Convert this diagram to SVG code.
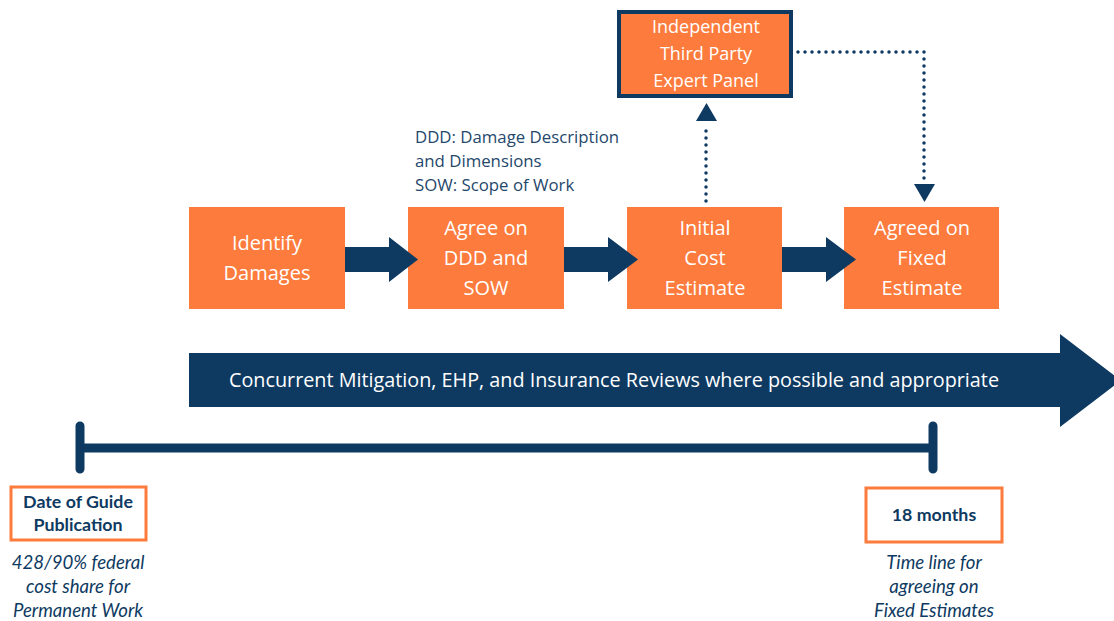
<svg xmlns="http://www.w3.org/2000/svg" width="1114" height="621" viewBox="0 0 1114 621">
  <style>
    .step { fill: #FD7B3C; }
    .stepText { font-family: "Open Sans", "Liberation Sans", sans-serif; font-size: 20px; fill: #ffffff; text-anchor: middle; }
    .panelText { font-family: "Open Sans", "Liberation Sans", sans-serif; font-size: 18px; fill: #ffffff; text-anchor: middle; }
    .note { font-family: "Open Sans", "Liberation Sans", sans-serif; font-size: 16.8px; fill: #24476B; }
    .bandText { font-family: "Open Sans", "Liberation Sans", sans-serif; font-size: 19.8px; fill: #ffffff; }
    .label { font-family: "Lato", "Liberation Sans", sans-serif; font-size: 17.8px; font-weight: bold; fill: #0E3A62; text-anchor: middle; }
    .caption { font-family: "Lato", "Liberation Sans", sans-serif; font-size: 18.6px; font-style: italic; fill: #0E3A62; text-anchor: middle; }
    .dotted { fill: none; stroke: #0E3A62; stroke-width: 3.5; stroke-linecap: round; stroke-dasharray: 0 7; }
    .navy { fill: #0E3A62; }
    .tick { stroke: #0E3A62; stroke-width: 9; stroke-linecap: round; fill: none; }
  </style>

  <rect width="1114" height="621" fill="#ffffff"/>

  <!-- expert panel -->
  <g id="panel">
    <rect x="619" y="12" width="172" height="84" fill="#FD7B3C" stroke="#0E3A62" stroke-width="4"/>
    <text class="panelText" x="706" y="33">Independent</text>
    <text class="panelText" x="706" y="60">Third Party</text>
    <text class="panelText" x="706" y="87">Expert Panel</text>
  </g>

  <!-- abbreviation notes -->
  <g id="notes">
    <text class="note" x="415" y="143">DDD: Damage Description</text>
    <text class="note" x="415" y="167">and Dimensions</text>
    <text class="note" x="415" y="191">SOW: Scope of Work</text>
  </g>

  <!-- process steps -->
  <g id="identify">
    <rect class="step" x="189" y="207" width="156" height="102"/>
    <text class="stepText" x="267" y="250">Identify</text>
    <text class="stepText" x="267" y="280">Damages</text>
  </g>
  <g id="agree">
    <rect class="step" x="408" y="207" width="156" height="102"/>
    <text class="stepText" x="486" y="235">Agree on</text>
    <text class="stepText" x="486" y="265">DDD and</text>
    <text class="stepText" x="486" y="295">SOW</text>
  </g>
  <g id="initial">
    <rect class="step" x="627" y="207" width="155" height="102"/>
    <text class="stepText" x="705" y="235">Initial</text>
    <text class="stepText" x="705" y="265">Cost</text>
    <text class="stepText" x="705" y="295">Estimate</text>
  </g>
  <g id="fixed">
    <rect class="step" x="844" y="207" width="155" height="102"/>
    <text class="stepText" x="922" y="235">Agreed on</text>
    <text class="stepText" x="922" y="265">Fixed</text>
    <text class="stepText" x="922" y="295">Estimate</text>
  </g>

  <!-- connectors -->
  <g id="connectors">
    <polygon class="navy" points="345,247 389,247 389,237 418,259.5 389,282 389,272 345,272"/>
    <polygon class="navy" points="564,247 608,247 608,237 638,259.5 608,282 608,272 564,272"/>
    <polygon class="navy" points="782,247 826,247 826,237 856,259.5 826,282 826,272 782,272"/>

    <path class="dotted" d="M706,201 V125"/>
    <polygon class="navy" points="696,121 717,121 706.5,103"/>

    <path class="dotted" d="M798,52 H924 V181"/>
    <polygon class="navy" points="914,184 935,184 924.5,202"/>
  </g>

  <!-- concurrent reviews band -->
  <g id="band">
    <polygon class="navy" points="189,353 1060,353 1060,334 1121,380.5 1060,427 1060,407 189,407"/>
    <text class="bandText" x="229" y="387">Concurrent Mitigation, EHP, and Insurance Reviews where possible and appropriate</text>
  </g>

  <!-- timeline -->
  <g id="timeline">
    <path class="tick" d="M80,426 V469 M933,426 V469"/>
    <path d="M80,448 H933" stroke="#0E3A62" stroke-width="9" fill="none"/>
  </g>

  <g id="start">
    <rect x="11" y="487" width="135" height="53" fill="#ffffff" stroke="#FD7B3C" stroke-width="3"/>
    <text class="label" x="78" y="508">Date of Guide</text>
    <text class="label" x="78" y="531">Publication</text>
    <text class="caption" x="78" y="569">428/90% federal</text>
    <text class="caption" x="78" y="593">cost share for</text>
    <text class="caption" x="78" y="617">Permanent Work</text>
  </g>

  <g id="end">
    <rect x="866" y="488" width="136" height="54" fill="#ffffff" stroke="#FD7B3C" stroke-width="3"/>
    <text class="label" x="934" y="521">18 months</text>
    <text class="caption" x="934" y="569">Time line for</text>
    <text class="caption" x="934" y="593">agreeing on</text>
    <text class="caption" x="934" y="617">Fixed Estimates</text>
  </g>
</svg>
